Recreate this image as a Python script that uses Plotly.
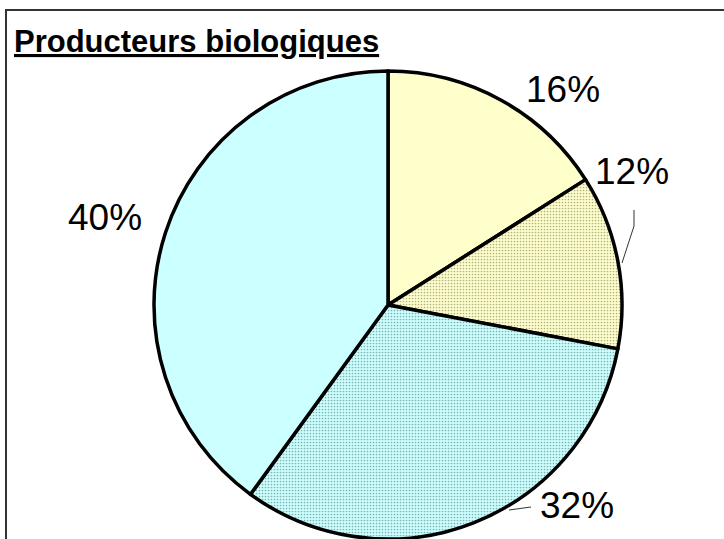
import plotly.graph_objects as go

W, H = 724, 539

categories = ["Catégorie A", "Catégorie B", "Catégorie C", "Catégorie D"]
values = [16, 12, 32, 40]
value_labels = ["16%", "12%", "32%", "40%"]
slice_colors = ["#FFFFCC", "#FFFFCC", "#CCFFFF", "#CCFFFF"]
pattern_shapes = ["", ".", ".", ""]
pattern_fg = ["#FFFFCC", "#B0B088", "#80B0B0", "#CCFFFF"]

def px_x(x):
    return x / W

def px_y(y):
    return 1 - y / H

fig = go.Figure()
fig.add_trace(go.Pie(
    labels=categories,
    values=values,
    sort=False,
    direction="clockwise",
    rotation=0,
    textinfo="none",
    hoverinfo="label+percent",
    showlegend=False,
    domain=dict(x=[px_x(154), px_x(622)], y=[0, px_y(71)]),
    marker=dict(
        colors=slice_colors,
        line=dict(color="#000000", width=3.5),
        pattern=dict(shape=pattern_shapes, fgcolor=pattern_fg,
                     bgcolor=slice_colors, size=3, solidity=0.25,
                     fillmode="replace"),
    ),
))

label_pos = [(563, 89), (632, 171), (577, 505), (105, 218)]
annotations = []
for txt, (lx, ly) in zip(value_labels, label_pos):
    annotations.append(dict(
        x=px_x(lx), y=px_y(ly), xref="paper", yref="paper",
        text=txt, showarrow=False, xanchor="center", yanchor="middle",
        font=dict(family="Liberation Sans, Arial, sans-serif", size=37, color="#000000"),
    ))
annotations.append(dict(
    x=px_x(12), y=px_y(41), xref="paper", yref="paper",
    text="<b><u>Producteurs biologiques</u></b>", showarrow=False,
    xanchor="left", yanchor="middle",
    font=dict(family="Liberation Sans, Arial, sans-serif", size=31, color="#000000"),
))

shapes = [
    dict(type="rect", xref="paper", yref="paper",
         x0=px_x(6), y0=-0.1, x1=1.1, y1=px_y(10),
         line=dict(color="#333333", width=2), fillcolor="rgba(0,0,0,0)"),
    dict(type="path", xref="paper", yref="paper",
         path=f"M {px_x(634)} {px_y(210)} L {px_x(634)} {px_y(226)} L {px_x(622)} {px_y(263)}",
         line=dict(color="#333333", width=1)),
    dict(type="line", xref="paper", yref="paper",
         x0=px_x(531), y0=px_y(507), x1=px_x(509), y1=px_y(510),
         line=dict(color="#333333", width=1)),
]

fig.update_layout(
    width=W, height=H,
    margin=dict(l=0, r=0, t=0, b=0),
    paper_bgcolor="#FFFFFF",
    plot_bgcolor="#FFFFFF",
    annotations=annotations,
    shapes=shapes,
)

fig.write_html(
    "out.html",
    config={"displayModeBar": False},
    post_script="document.body.style.margin='0';document.body.style.overflow='hidden';",
)
